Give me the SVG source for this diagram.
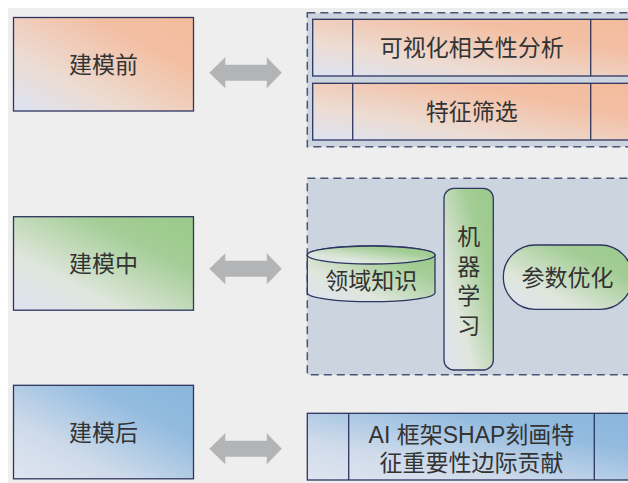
<svg xmlns="http://www.w3.org/2000/svg" width="628" height="483" viewBox="0 0 628 483">
<defs>
<linearGradient id="gOr" x1="0" y1="1" x2="1" y2="0">
<stop offset="0" stop-color="#dce3f3"/>
<stop offset="0.3" stop-color="#ecdcd3"/>
<stop offset="0.72" stop-color="#f3bfa3"/>
<stop offset="1" stop-color="#f3bb9d"/>
</linearGradient>
<linearGradient id="gGr" x1="0" y1="1" x2="1" y2="0">
<stop offset="0" stop-color="#dde3f2"/>
<stop offset="0.3" stop-color="#dfe6dc"/>
<stop offset="0.72" stop-color="#a2cd94"/>
<stop offset="1" stop-color="#9bc98d"/>
</linearGradient>
<linearGradient id="gBl" x1="0" y1="1" x2="1" y2="0">
<stop offset="0" stop-color="#dfe4f0"/>
<stop offset="0.3" stop-color="#cfdbea"/>
<stop offset="0.72" stop-color="#92bbdf"/>
<stop offset="1" stop-color="#8ab5db"/>
</linearGradient>
<polygon id="arr" points="0,0 16,-15.5 16,-8 57.5,-8 57.5,-15.5 72.5,0 57.5,15.5 57.5,8 16,8 16,15.5"/>
</defs>
<style>
.box{stroke:#2e3560;stroke-width:1.3}
.cont{fill:#cbd4df;stroke:#4a5474;stroke-width:1.5;stroke-dasharray:8 5}
.ln{stroke:#2e3560;stroke-width:1.3}
.t{font-family:"Liberation Sans","Noto Sans CJK SC",sans-serif;font-size:23px;fill:#333;text-anchor:middle;dominant-baseline:central}
.arrow{fill:#b3b4b6}
</style>
<rect x="0" y="0" width="628" height="483" fill="#ffffff"/>
<rect x="8" y="8" width="620" height="475" fill="#eeeeee"/>

<g id="pre">
<rect class="box" x="13.5" y="17.5" width="180" height="93.5" fill="url(#gOr)"/>
<text class="t" x="103.5" y="65">建模前</text>
</g>
<g id="mid">
<rect class="box" x="13.5" y="216.7" width="180" height="93.5" fill="url(#gGr)"/>
<text class="t" x="103.5" y="264">建模中</text>
</g>
<g id="post">
<rect class="box" x="13.5" y="385.3" width="180" height="93.5" fill="url(#gBl)"/>
<text class="t" x="103.5" y="433">建模后</text>
</g>

<g id="connectors">
<use href="#arr" class="arrow" x="209.3" y="72.8"/>
<use href="#arr" class="arrow" x="209.3" y="268.8"/>
<use href="#arr" class="arrow" x="209.3" y="448.7"/>
</g>

<g id="pre-group">
<rect class="cont" x="307.3" y="12.7" width="330" height="134"/>
<g id="vis">
<rect class="box" x="312.7" y="19.3" width="318" height="56.7" fill="url(#gOr)"/>
<line class="ln" x1="352.7" y1="19.3" x2="352.7" y2="76"/>
<line class="ln" x1="590.7" y1="19.3" x2="590.7" y2="76"/>
<text class="t" x="471.7" y="48">可视化相关性分析</text>
</g>
<g id="feat">
<rect class="box" x="312.7" y="83.3" width="318" height="56.7" fill="url(#gOr)"/>
<line class="ln" x1="352.7" y1="83.3" x2="352.7" y2="140"/>
<line class="ln" x1="590.7" y1="83.3" x2="590.7" y2="140"/>
<text class="t" x="471.7" y="112">特征筛选</text>
</g>
</g>

<g id="mid-group">
<rect class="cont" x="307.3" y="178.3" width="330" height="196.5"/>
<g id="domain">
<path class="box" fill="url(#gGr)" d="M307.3,255 v37.7 a63.85,9 0 0 0 127.7,0 v-37.7 a63.85,9 0 0 0 -127.7,0 z"/>
<ellipse class="box" cx="371.15" cy="255" rx="63.85" ry="9" fill="url(#gGr)"/>
<text class="t" x="371.15" y="281">领域知识</text>
</g>
<g id="ml">
<rect class="box" x="444" y="188.3" width="49.3" height="181.7" rx="10" fill="url(#gGr)"/>
<text class="t" x="468.7" y="237">机</text>
<text class="t" x="468.7" y="266.5">器</text>
<text class="t" x="468.7" y="296">学</text>
<text class="t" x="468.7" y="325.5">习</text>
</g>
<g id="param">
<rect class="box" x="503.3" y="245" width="129" height="64.3" rx="32" fill="url(#gGr)"/>
<text class="t" x="567.5" y="278">参数优化</text>
</g>
</g>

<g id="shap">
<rect class="box" x="307.3" y="413.3" width="328" height="66.7" fill="url(#gBl)"/>
<line class="ln" x1="348.7" y1="413.3" x2="348.7" y2="480"/>
<line class="ln" x1="594.3" y1="413.3" x2="594.3" y2="480"/>
<text class="t" x="471.5" y="435">AI 框架SHAP刻画特</text>
<text class="t" x="471.5" y="463">征重要性边际贡献</text>
</g>
</svg>
